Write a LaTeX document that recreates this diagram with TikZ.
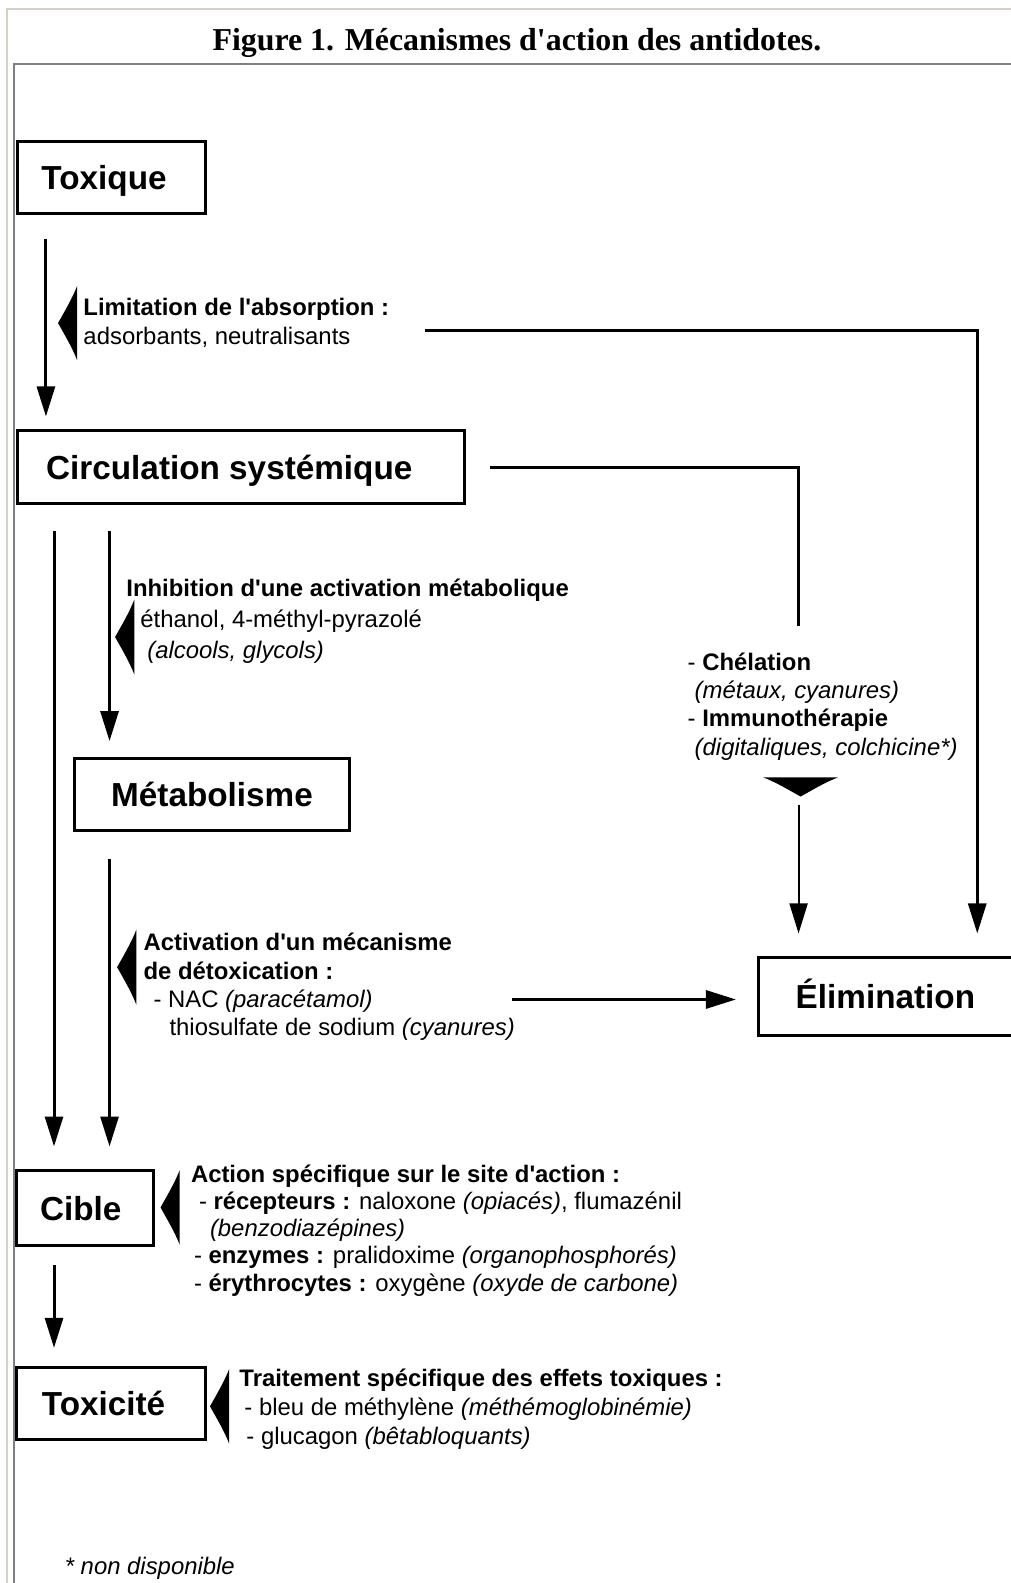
\documentclass[tikz,border=0pt]{standalone}
\usepackage{fontspec}
\setmainfont{Liberation Sans}
\newfontfamily\titlefont{Liberation Serif}
\usetikzlibrary{arrows.meta,calc,positioning}
\definecolor{outerframe}{HTML}{D4D0C8}
\definecolor{innerframe}{HTML}{808080}
\newcommand\q{\textquotesingle}

\begin{document}
\begin{tikzpicture}[x=1.01pt,y=-1.01pt,
    box/.style={draw,line width=3pt,font=\fontsize{33.3}{40}\selectfont\bfseries,
      text height=23.8pt,text depth=0pt,inner sep=0pt},
    txt/.style={font=\fontsize{23.9}{28.3}\selectfont,align=left,inner sep=0pt,anchor=base west},
    arr/.style={line width=3pt,-{Triangle[length=30pt,width=18pt]}},
    link/.style={line width=3pt},
    antidote/.pic={\fill (0,0) .. controls (5,-9) and (14,-24) .. (19,-37) -- (19,37)
      .. controls (14,24) and (5,9) .. (0,0) -- cycle;}]
  \useasboundingbox (0,0) rectangle (1001,1568);
  % frame
  \draw[outerframe,line width=2pt] (7.4,1568) -- (7.4,9.4) -- (1001,9.4);
  \draw[innerframe,line width=2.3pt] (13.8,1568) -- (13.8,63.6) -- (1001,63.6);
  \node[anchor=base,font=\titlefont\bfseries\fontsize{31.9}{38}\selectfont] (title) at (512,50)
    {Figure 1. Mécanismes d\q action des antidotes.};

  % boxes
  \node[box,minimum width=188pt,minimum height=72pt] (tox) at (110,176) {Toxique\hspace*{14pt}};
  \node[box,minimum width=447pt,minimum height=73pt] (circ) at (238.5,463) {Circulation systémique\hspace*{23pt}};
  \node[box,minimum width=275pt,minimum height=72pt] (meta) at (210,787) {Métabolisme};
  \node[box,draw=none,minimum width=250pt,minimum height=75pt] (elim) at (877,987) {Élimination};
  \draw[line width=3pt] (elim.north east) -- (elim.north west) -- (elim.south west) -- (elim.south east);
  \node[box,minimum width=137pt,minimum height=75pt] (cible) at (84.5,1197) {Cible\hspace*{9pt}};
  \node[box,minimum width=189pt,minimum height=72pt] (toxi) at (110,1390) {Toxicité\hspace*{15pt}};

  % antidote texts (anchored on their last line)
  \node[txt] (limit) at (82.5,341) {\textbf{Limitation de l\q absorption :}\\adsorbants, neutralisants};
  \node[txt] (inhib) at (125,652) {\textbf{Inhibition d\q une activation métabolique}\\[3pt]
    \hspace*{14pt}éthanol, 4-méthyl-pyrazolé\\[2pt]
    \hspace*{21pt}\textit{(alcools, glycols)}};
  \node[txt] (activ) at (142,1026) {\textbf{Activation d\q un mécanisme}\\
    \textbf{de détoxication :}\\
    \hspace*{10pt}- NAC \textit{(paracétamol)}\\
    \hspace*{26pt}thiosulfate de sodium \textit{(cyanures)}};
  \node[txt] (chel) at (681,748) {- \textbf{Chélation}\\
    \hspace*{7pt}\textit{(métaux, cyanures)}\\
    - \textbf{Immunothérapie}\\
    \hspace*{7pt}\textit{(digitaliques, colchicine*)}};
  \node[txt] (action) at (189,1279) {\textbf{Action spécifique sur le site d\q action :}\\[-1pt]
    \hspace*{8pt}- \textbf{récepteurs :} naloxone \textit{(opiacés)}, flumazénil\\[-1pt]
    \hspace*{19pt}\textit{(benzodiazépines)}\\[-1pt]
    \hspace*{3pt}- \textbf{enzymes :} pralidoxime \textit{(organophosphorés)}\\[-1pt]
    \hspace*{3pt}- \textbf{érythrocytes :} oxygène \textit{(oxyde de carbone)}};
  \node[txt] (trait) at (237,1431) {\textbf{Traitement spécifique des effets toxiques :}\\[1pt]
    \hspace*{5pt}- bleu de méthylène \textit{(méthémoglobinémie)}\\[1pt]
    \hspace*{7pt}- glucagon \textit{(bêtabloquants)}};
  \node[txt] (note) at (64,1560) {\textit{* non disponible}};

  % wedges
  \pic at (57.5,320) {antidote};
  \pic at (114,631) {antidote};
  \pic at (116,958) {antidote};
  \pic at (159,1196) {antidote};
  \pic at (208,1393) {antidote};
  \pic[rotate=90] at (793,789) {antidote};

  % columns
  \coordinate (c1) at (45.5,0);
  \coordinate (c2) at (53.5,0);
  \coordinate (c3) at (108.5,0);
  \coordinate (c4) at (791,0);
  \coordinate (c5) at (968,0);
  \coordinate (limend) at (421,327.7);
  \coordinate (chelend) at (791,620);
  \coordinate (chelarr) at (791,797);
  \coordinate (nacstart) at (507,990);

  % arrows
  \draw[arr,shorten <=24pt,shorten >=13pt] (tox.south -| c1) -- (circ.north -| c1);
  \draw[arr,shorten <=26pt,shorten >=23pt] (circ.south -| c2) -- (cible.north -| c2);
  \draw[arr,shorten <=26pt,shorten >=16pt] (circ.south -| c3) -- (meta.north -| c3);
  \draw[arr,shorten <=27pt,shorten >=23pt] (meta.south -| c3) -- (cible.north -| c3);
  \draw[arr,shorten <=18pt,shorten >=18pt] (cible.south -| c2) -- (toxi.north -| c2);
  \draw[arr,shorten >=24pt] (limend) -| (elim.north -| c5);
  \draw[link] ([xshift=24pt]circ.east) -| (chelend);
  \draw[arr,line width=2pt,shorten >=24pt] (chelarr) -- (elim.north -| c4);
  \draw[arr,shorten >=23pt] (nacstart) -- (nacstart -| elim.west);
\end{tikzpicture}
\end{document}
